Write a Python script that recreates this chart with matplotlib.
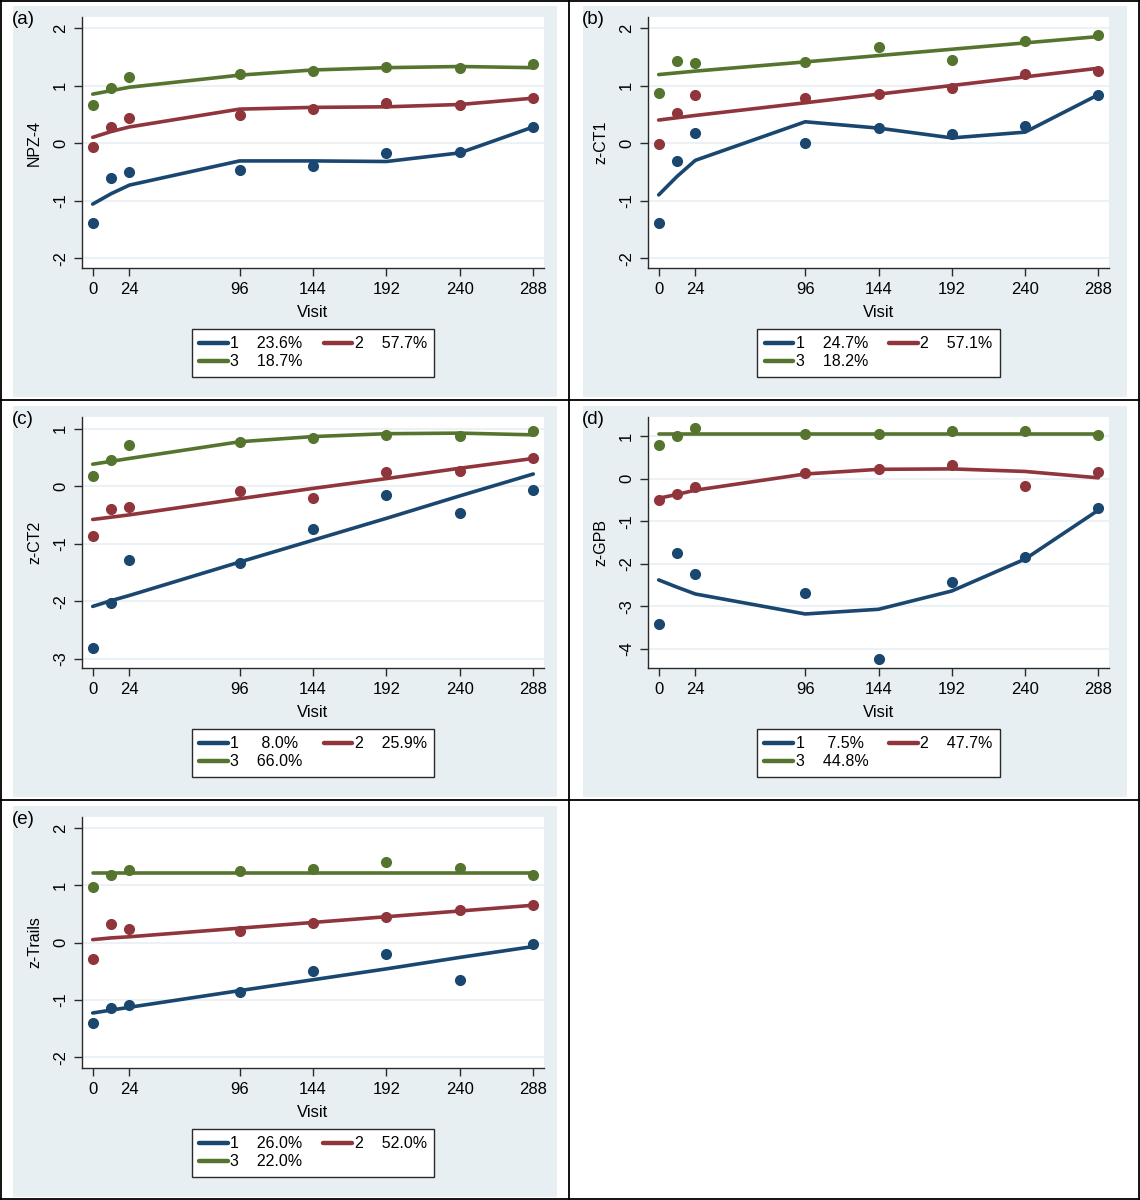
import numpy as np
import matplotlib
matplotlib.use("Agg")
import matplotlib.pyplot as plt
from matplotlib.patches import Rectangle
from matplotlib.lines import Line2D

plt.rcParams['font.family'] = ['Liberation Sans', 'DejaVu Sans']

visits = [0, 12, 24, 96, 144, 192, 240, 288]
xticks = [0, 24, 96, 144, 192, 240, 288]

# (a) NPZ-4
a_obs1 = [-1.38, -0.61, -0.50, -0.46, -0.39, -0.17, -0.16, 0.28]
a_fit1 = [-1.06, -0.88, -0.73, -0.31, -0.31, -0.32, -0.17, 0.28]
a_obs2 = [-0.06, 0.28, 0.44, 0.49, 0.59, 0.69, 0.67, 0.78]
a_fit2 = [0.10, 0.20, 0.28, 0.59, 0.62, 0.63, 0.67, 0.78]
a_obs3 = [0.67, 0.95, 1.14, 1.20, 1.25, 1.33, 1.31, 1.37]
a_fit3 = [0.85, 0.91, 0.97, 1.18, 1.27, 1.31, 1.33, 1.31]
a_pct = ['23.6%', '57.7%', '18.7%']

# (b) z-CT1
b_obs1 = [-1.38, -0.31, 0.18, 0.01, 0.26, 0.16, 0.30, 0.84]
b_fit1 = [-0.90, -0.58, -0.30, 0.37, 0.26, 0.09, 0.19, 0.84]
b_obs2 = [-0.01, 0.52, 0.83, 0.78, 0.85, 0.95, 1.20, 1.26]
b_fit2 = [0.40, 0.44, 0.48, 0.70, 0.85, 1.00, 1.15, 1.30]
b_obs3 = [0.87, 1.42, 1.39, 1.40, 1.67, 1.44, 1.77, 1.88]
b_fit3 = [1.19, 1.22, 1.25, 1.41, 1.52, 1.63, 1.74, 1.85]
b_pct = ['24.7%', '57.1%', '18.2%']

# (c) z-CT2
c_obs1 = [-2.82, -2.03, -1.29, -1.33, -0.75, -0.15, -0.47, -0.06]
c_fit1 = [-2.09, -1.99, -1.90, -1.32, -0.94, -0.56, -0.17, 0.21]
c_obs2 = [-0.86, -0.39, -0.36, -0.08, -0.21, 0.25, 0.26, 0.48]
c_fit2 = [-0.58, -0.54, -0.50, -0.22, -0.04, 0.13, 0.31, 0.48]
c_obs3 = [0.18, 0.45, 0.71, 0.77, 0.84, 0.89, 0.87, 0.95]
c_fit3 = [0.38, 0.43, 0.48, 0.77, 0.86, 0.91, 0.92, 0.89]
c_pct = ['8.0%', '25.9%', '66.0%']

# (d) z-GPB
d_obs1 = [-3.41, -1.75, -2.24, -2.68, -4.24, -2.43, -1.83, -0.70]
d_fit1 = [-2.38, -2.55, -2.71, -3.18, -3.07, -2.64, -1.89, -0.74]
d_obs2 = [-0.49, -0.37, -0.20, 0.13, 0.23, 0.31, -0.17, 0.16]
d_fit2 = [-0.46, -0.37, -0.27, 0.11, 0.22, 0.23, 0.17, 0.02]
d_obs3 = [0.79, 1.00, 1.18, 1.05, 1.06, 1.11, 1.12, 1.02]
d_fit3 = [1.04, 1.04, 1.04, 1.04, 1.04, 1.04, 1.04, 1.04]
d_pct = ['7.5%', '47.7%', '44.8%']

# (e) z-Trails
e_obs1 = [-1.40, -1.15, -1.09, -0.87, -0.50, -0.20, -0.66, -0.02]
e_fit1 = [-1.23, -1.18, -1.13, -0.84, -0.65, -0.46, -0.26, -0.07]
e_obs2 = [-0.28, 0.32, 0.23, 0.20, 0.34, 0.45, 0.56, 0.65]
e_fit2 = [0.05, 0.08, 0.10, 0.25, 0.35, 0.45, 0.55, 0.65]
e_obs3 = [0.96, 1.17, 1.26, 1.24, 1.29, 1.41, 1.30, 1.17]
e_fit3 = [1.21, 1.21, 1.21, 1.21, 1.21, 1.21, 1.21, 1.21]
e_pct = ['26.0%', '52.0%', '22.0%']

panels = [
    ('(a)', 'NPZ-4', (a_obs1, a_obs2, a_obs3), (a_fit1, a_fit2, a_fit3), a_pct, [-2, -1, 0, 1, 2], (-2.17, 2.19)),
    ('(b)', 'z-CT1', (b_obs1, b_obs2, b_obs3), (b_fit1, b_fit2, b_fit3), b_pct, [-2, -1, 0, 1, 2], (-2.17, 2.19)),
    ('(c)', 'z-CT2', (c_obs1, c_obs2, c_obs3), (c_fit1, c_fit2, c_fit3), c_pct, [-3, -2, -1, 0, 1], (-3.16, 1.20)),
    ('(d)', 'z-GPB', (d_obs1, d_obs2, d_obs3), (d_fit1, d_fit2, d_fit3), d_pct, [-4, -3, -2, -1, 0, 1], (-4.45, 1.45)),
    ('(e)', 'z-Trails', (e_obs1, e_obs2, e_obs3), (e_fit1, e_fit2, e_fit3), e_pct, [-2, -1, 0, 1, 2], (-2.19, 2.19)),
]

colors = ['#1A476F', '#90353B', '#55752F']
bg = '#E7EFF3'
W, H = 1140, 1200
origins = [(0, 0), (570, 0), (0, 400), (570, 400), (0, 800)]


def fx(px):
    return px / W


def fy(py):
    return 1 - py / H


def leg_label(k, pct):
    # centre shorter percentages like Stata does
    pad = ' ' if len(pct) < 5 else ''
    return f"{k}    {pad}{pct}"


fig = plt.figure(figsize=(W / 100, H / 100), dpi=100)
fig.patch.set_facecolor('white')

for (label, ylab, obs, fit, pct, yticks, ylim), (x0, y0) in zip(panels, origins):
    # light blue graph region
    fig.add_artist(Rectangle((fx(x0 + 13), fy(y0 + 397)), (557 - 13) / W, (397 - 6) / H,
                             transform=fig.transFigure, facecolor=bg, edgecolor='none', zorder=0))

    if x0 == 0:
        left, right = x0 + 82, x0 + 544
    else:
        left, right = x0 + 78, x0 + 539
    top, bottom = y0 + 17, y0 + 268
    ax = fig.add_axes([fx(left), fy(bottom), (right - left) / W, (bottom - top) / H])
    ax.set_facecolor('white')
    ax.set_zorder(1)

    for k in range(3):
        ax.plot(visits, fit[k], color=colors[k], lw=2.6, solid_capstyle='round', zorder=3,
                label=leg_label(k + 1, pct[k]))
        ax.plot(visits, obs[k], 'o', color=colors[k], ms=7, zorder=4)

    ax.set_xlim(-7, 295)
    ax.set_ylim(*ylim)
    ax.set_xticks(xticks)
    ax.set_yticks(yticks)
    ax.set_yticklabels([str(t) for t in yticks], rotation=90, va='center')
    ax.yaxis.grid(True, color=bg, lw=1.2)
    ax.set_axisbelow(True)
    for s in ['top', 'right']:
        ax.spines[s].set_visible(False)
    for s in ['left', 'bottom']:
        ax.spines[s].set_color('#2a2a2a')
        ax.spines[s].set_linewidth(1.0)
    ax.tick_params(axis='both', direction='out', length=6, width=1, color='#2a2a2a',
                   labelsize=12, pad=4)
    ax.set_xlabel('Visit', fontsize=12, labelpad=6)
    ax.set_ylabel(ylab, fontsize=11.5, labelpad=8)

    fig.text(fx(x0 + 12), fy(y0 + 19), label, fontsize=13.5, va='center', ha='left')

    handles, labels = ax.get_legend_handles_labels()
    order = [0, 2, 1]
    cx = (left + right) / 2
    leg = fig.legend([handles[i] for i in order], [labels[i] for i in order],
                     loc='upper center', bbox_to_anchor=(fx(cx), fy(y0 + 329)),
                     bbox_transform=fig.transFigure, ncol=2, fontsize=11.5,
                     frameon=True, fancybox=False, edgecolor='#2a2a2a', framealpha=1,
                     handlelength=1.8, handletextpad=0.15, columnspacing=1.3,
                     labelspacing=0.2, borderpad=0.45, borderaxespad=0)
    leg.get_frame().set_linewidth(1.0)
    for line in leg.get_lines():
        line.set_linewidth(3.2)

# panel borders
lw = 1.3
for xs, ys in [([0, 1140], [1, 1]), ([0, 1140], [1199, 1199]), ([1, 1], [0, 1200]),
               ([1139, 1139], [0, 1200]), ([569, 569], [0, 1200]),
               ([0, 1140], [400, 400]), ([0, 1140], [800, 800])]:
    fig.add_artist(Line2D([fx(x) for x in xs], [fy(y) for y in ys], transform=fig.transFigure,
                          color='black', lw=lw, zorder=5))

fig.savefig('out.png', dpi=100)
